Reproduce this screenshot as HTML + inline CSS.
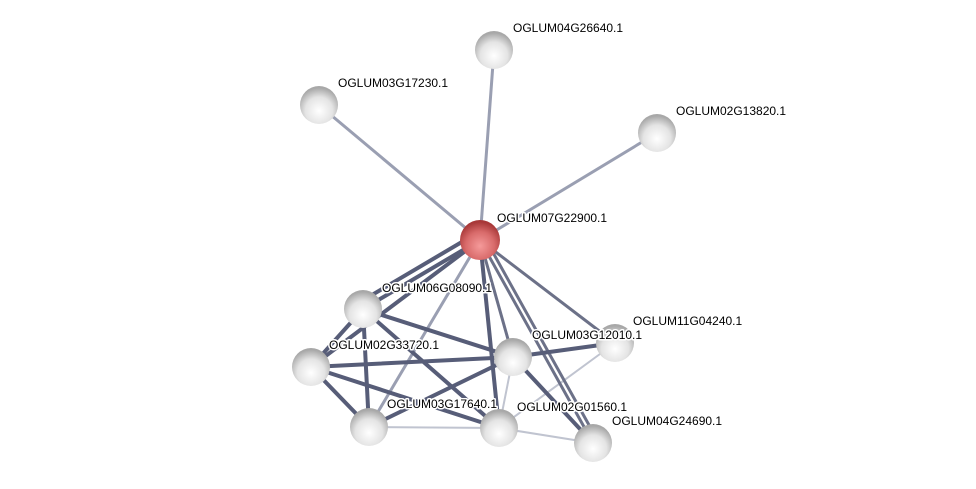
<!DOCTYPE html>
<html><head><meta charset="utf-8"><style>
html,body{margin:0;padding:0;background:#fff;width:976px;height:489px;overflow:hidden}
text{font-family:"Liberation Sans",sans-serif;font-size:12px;fill:#000;stroke:#fff;stroke-width:3px;paint-order:stroke;stroke-linejoin:round}
</style></head><body>
<svg width="976" height="489" xmlns="http://www.w3.org/2000/svg">
<defs>
<radialGradient id="g" cx="50%" cy="65%" r="60%">
<stop offset="0" stop-color="#ffffff"/><stop offset="0.6" stop-color="#e4e4e4"/><stop offset="1" stop-color="#a8a8a8"/>
</radialGradient>
<radialGradient id="r" cx="50%" cy="65%" r="60%">
<stop offset="0" stop-color="#f59a9a"/><stop offset="0.6" stop-color="#d86a6a"/><stop offset="1" stop-color="#a83838"/>
</radialGradient>
</defs>
<g stroke-linecap="round">
<g stroke="#9a9fb2" stroke-width="3">
<line x1="480" y1="240" x2="494" y2="50"/>
<line x1="480" y1="240" x2="319" y2="105"/>
<line x1="480" y1="240" x2="657" y2="133"/>
<line x1="480" y1="240" x2="369" y2="427"/>
</g>
<g stroke="#c0c4d0" stroke-width="2">
<line x1="513" y1="357" x2="499" y2="428"/>
<line x1="615" y1="343" x2="499" y2="428"/>
<line x1="369" y1="427" x2="499" y2="428"/>
<line x1="499" y1="428" x2="593" y2="443"/>
</g>
<g stroke="#6c7188" stroke-width="3">
<line x1="480" y1="240" x2="513" y2="357"/>
<line x1="480" y1="240" x2="615" y2="343"/>
<line x1="480" y1="240" x2="593" y2="443"/>
<line x1="486" y1="240" x2="599" y2="443"/>
</g>
<g stroke="#575d78" stroke-width="4">
<line x1="480" y1="240" x2="363" y2="309"/>
<line x1="472" y1="236" x2="355" y2="305"/>
<line x1="480" y1="240" x2="311" y2="367"/>
<line x1="480" y1="240" x2="499" y2="428"/>
<line x1="363" y1="309" x2="311" y2="367"/>
<line x1="363" y1="309" x2="513" y2="357"/>
<line x1="363" y1="309" x2="369" y2="427"/>
<line x1="363" y1="309" x2="499" y2="428"/>
<line x1="311" y1="367" x2="513" y2="357"/>
<line x1="311" y1="367" x2="369" y2="427"/>
<line x1="311" y1="367" x2="499" y2="428"/>
<line x1="513" y1="357" x2="615" y2="343"/>
<line x1="513" y1="357" x2="369" y2="427"/>
<line x1="513" y1="357" x2="593" y2="443"/>
</g>
</g>
<g>
<circle cx="494" cy="50" r="19" fill="url(#g)"/>
<circle cx="319" cy="105" r="19" fill="url(#g)"/>
<circle cx="657" cy="133" r="19" fill="url(#g)"/>
<circle cx="363" cy="309" r="19" fill="url(#g)"/>
<circle cx="311" cy="367" r="19" fill="url(#g)"/>
<circle cx="513" cy="357" r="19" fill="url(#g)"/>
<circle cx="615" cy="343" r="19" fill="url(#g)"/>
<circle cx="369" cy="427" r="19" fill="url(#g)"/>
<circle cx="499" cy="428" r="19" fill="url(#g)"/>
<circle cx="593" cy="443" r="19" fill="url(#g)"/>
<circle cx="480" cy="240" r="20" fill="url(#r)"/>
</g>
<g>
<text x="513" y="32">OGLUM04G26640.1</text>
<text x="338" y="87">OGLUM03G17230.1</text>
<text x="676" y="115">OGLUM02G13820.1</text>
<text x="497" y="222">OGLUM07G22900.1</text>
<text x="382" y="292">OGLUM06G08090.1</text>
<text x="329" y="349">OGLUM02G33720.1</text>
<text x="532" y="339">OGLUM03G12010.1</text>
<text x="633" y="325">OGLUM11G04240.1</text>
<text x="387" y="408">OGLUM03G17640.1</text>
<text x="517" y="411">OGLUM02G01560.1</text>
<text x="612" y="425">OGLUM04G24690.1</text>
</g>
</svg>
</body></html>
